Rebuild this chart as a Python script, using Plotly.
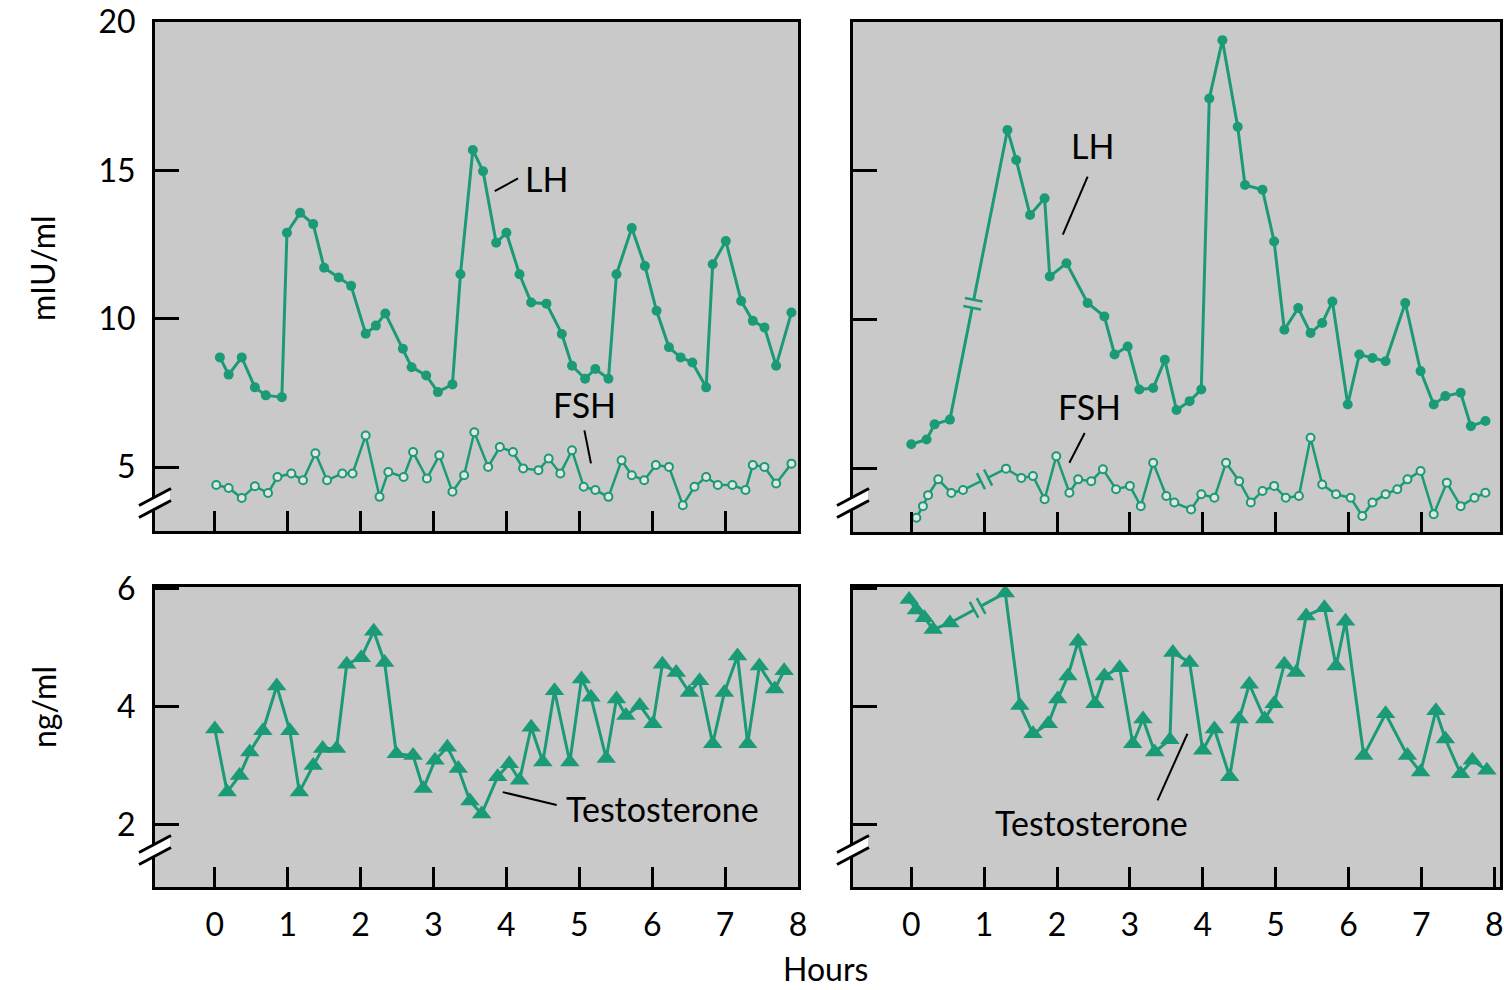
import plotly.graph_objects as go

# ---------------- data ----------------
# Left subject
lh1_t = [0.07,0.19,0.37,0.55,0.70,0.92,0.99,1.17,1.35,1.50,1.70,1.87,2.07,2.21,2.34,2.58,2.70,2.90,3.06,3.26,
         3.37,3.54,3.68,3.86,4.00,4.18,4.34,4.55,4.76,4.90,5.08,5.22,5.40,5.51,5.72,5.90,6.06,6.23,6.39,6.55,
         6.74,6.83,7.01,7.22,7.38,7.54,7.70,7.91]
lh1 = [8.70,8.12,8.70,7.69,7.42,7.36,12.90,13.57,13.19,11.72,11.39,11.11,9.50,9.77,10.18,8.99,8.37,8.09,7.53,7.79,
       11.50,15.69,14.97,12.56,12.90,11.50,10.55,10.51,9.49,8.42,7.98,8.31,7.98,11.50,13.06,11.78,10.27,9.04,8.70,8.53,
       7.69,11.84,12.62,10.60,9.93,9.71,8.42,10.21]
fsh1_t = [0.02,0.19,0.37,0.55,0.73,0.86,1.05,1.21,1.38,1.54,1.75,1.89,2.07,2.26,2.38,2.59,2.72,2.91,3.08,3.26,
          3.42,3.56,3.75,3.91,4.09,4.23,4.44,4.58,4.74,4.90,5.06,5.22,5.40,5.58,5.72,5.89,6.05,6.23,6.42,6.58,
          6.74,6.90,7.10,7.28,7.38,7.54,7.70,7.91]
fsh1 = [4.40,4.30,3.96,4.36,4.13,4.67,4.79,4.56,5.47,4.56,4.79,4.79,6.07,4.00,4.84,4.67,5.51,4.62,5.40,4.17,
        4.73,6.18,5.01,5.68,5.51,4.96,4.90,5.29,4.79,5.57,4.34,4.23,4.00,5.23,4.73,4.56,5.07,5.01,3.72,4.34,
        4.67,4.40,4.40,4.23,5.07,5.01,4.45,5.12]
t1_t = [0.00,0.17,0.34,0.48,0.66,0.85,1.03,1.16,1.35,1.48,1.67,1.81,2.01,2.18,2.33,2.49,2.72,2.86,3.02,3.19,
        3.34,3.50,3.66,3.88,4.04,4.18,4.34,4.50,4.66,4.87,5.03,5.16,5.37,5.51,5.64,5.83,6.01,6.14,6.33,6.51,
        6.65,6.83,6.99,7.17,7.31,7.47,7.68,7.81]
t1 = [3.62,2.55,2.83,3.23,3.59,4.35,3.59,2.55,3.00,3.29,3.29,4.72,4.83,5.28,4.75,3.20,3.17,2.61,3.09,3.31,
      2.95,2.40,2.18,2.81,3.03,2.75,3.65,3.06,4.27,3.06,4.47,4.16,3.12,4.13,3.85,4.02,3.71,4.72,4.58,4.24,
      4.44,3.37,4.24,4.86,3.37,4.69,4.30,4.61]

# Right subject
lh2_t = [0.00,0.21,0.32,0.53,1.32,1.44,1.63,1.83,1.90,2.13,2.42,2.65,2.79,2.97,3.13,3.32,3.48,3.64,3.82,3.98,
         4.09,4.27,4.48,4.58,4.82,4.98,5.12,5.31,5.48,5.64,5.78,5.99,6.15,6.33,6.51,6.78,6.99,7.17,7.33,7.54,
         7.68,7.88]
lh2 = [5.80,5.96,6.47,6.63,16.37,15.36,13.51,14.07,11.44,11.89,10.55,10.10,8.82,9.09,7.64,7.69,8.64,6.95,7.25,7.64,
       17.43,19.39,16.48,14.52,14.36,12.62,9.65,10.38,9.54,9.88,10.60,7.14,8.82,8.70,8.59,10.55,8.26,7.14,7.42,7.53,
       6.41,6.58]
fsh2_t = [0.07,0.16,0.23,0.37,0.55,0.71,1.30,1.51,1.67,1.83,1.99,2.17,2.29,2.47,2.63,2.81,3.00,3.15,3.32,3.50,
          3.61,3.84,3.98,4.16,4.32,4.50,4.66,4.82,4.98,5.14,5.32,5.48,5.64,5.83,6.03,6.19,6.33,6.51,6.67,6.81,
          6.99,7.17,7.35,7.54,7.73,7.88]
fsh2 = [3.33,3.72,4.09,4.62,4.16,4.26,4.98,4.67,4.73,3.95,5.40,4.17,4.62,4.56,4.96,4.29,4.40,3.72,5.18,4.06,
        3.84,3.61,4.12,4.00,5.18,4.56,3.84,4.23,4.40,4.00,4.06,6.02,4.45,4.12,4.00,3.39,3.84,4.12,4.29,4.62,
        4.90,3.45,4.51,3.72,4.00,4.17]
t2_t = [-0.03,0.07,0.18,0.30,0.53,1.29,1.49,1.67,1.88,2.01,2.15,2.29,2.52,2.65,2.86,3.04,3.18,3.34,3.55,3.59,
        3.82,4.00,4.16,4.37,4.50,4.64,4.85,4.98,5.12,5.28,5.42,5.67,5.83,5.96,6.21,6.51,6.81,6.99,7.20,7.33,
        7.54,7.70,7.90]
t2 = [5.82,5.64,5.51,5.31,5.42,5.93,4.02,3.54,3.71,4.13,4.52,5.11,4.05,4.52,4.66,3.37,3.79,3.23,3.44,4.92,
      4.75,3.26,3.62,2.81,3.79,4.38,3.79,4.05,4.72,4.58,5.54,5.68,4.69,5.45,3.17,3.88,3.17,2.89,3.93,3.45,
      2.86,3.09,2.92]
# index after which the right-hand series has a sampling break ("//")
breaks2 = {"lh": 3, "fsh": 5, "t": 4}

hour_ticks = [0, 1, 2, 3, 4, 5, 6, 7, 8]
top_yticks = [5, 10, 15, 20]
bot_yticks = [2, 4, 6]

# ---------------- styling / layout ----------------
W, H = 1504, 990
TEAL = "#1b9a77"
BG = "#c9c9c9"
FONT = "Lato"
TICK_FS = 32
LABEL_FS = 34
TITLE_FS = 32

# panel pixel boxes (left, right, top, bottom) and axis ranges
panels = {
    "tl": dict(ax=("x", "y"),   box=(155, 798, 22, 531),  xr=[-0.82, 8.0],  yr=[2.85, 20.0]),
    "tr": dict(ax=("x2", "y2"), box=(853, 1500, 22, 532), xr=[-0.80, 8.08], yr=[2.85, 20.0]),
    "bl": dict(ax=("x3", "y3"), box=(155, 798, 587, 887), xr=[-0.82, 8.0],  yr=[0.94, 6.03]),
    "br": dict(ax=("x4", "y4"), box=(853, 1500, 587, 887), xr=[-0.80, 8.08], yr=[0.94, 6.03]),
}

fig = go.Figure()

def add_series(key, t, v, kind):
    xa, ya = panels[key]["ax"]
    if kind == "lh":
        marker = dict(symbol="circle", size=10, color=TEAL)
        lw = 3
    elif kind == "fsh":
        marker = dict(symbol="circle", size=8, color="#e4e4e4", line=dict(color=TEAL, width=2))
        lw = 2.5
    else:
        marker = dict(symbol="triangle-up", size=17, color=TEAL)
        lw = 3
    fig.add_trace(go.Scatter(x=t, y=v, mode="lines+markers", xaxis=xa, yaxis=ya,
                             line=dict(color=TEAL, width=lw), marker=marker,
                             cliponaxis=False, showlegend=False, hoverinfo="skip"))

add_series("tl", fsh1_t, fsh1, "fsh")
add_series("tl", lh1_t, lh1, "lh")
add_series("bl", t1_t, t1, "t")
add_series("tr", fsh2_t, fsh2, "fsh")
add_series("tr", lh2_t, lh2, "lh")
add_series("br", t2_t, t2, "t")

layout = dict(width=W, height=H, autosize=False, margin=dict(l=0, r=0, t=0, b=0, autoexpand=False),
              paper_bgcolor="white", plot_bgcolor=BG,
              font=dict(family=FONT, size=TICK_FS, color="black"), showlegend=False)

for key, p in panels.items():
    l, r, t, b = p["box"]
    xa, ya = p["ax"]
    xname = "xaxis" + xa[1:]
    yname = "yaxis" + ya[1:]
    bottom = key in ("bl", "br")
    left = key in ("tl", "bl")
    layout[xname] = dict(domain=[l / W, r / W], range=p["xr"], anchor=ya, automargin=False,
                         showline=True, mirror=True, linecolor="black", linewidth=3,
                         ticks="inside", ticklen=20, tickwidth=3, tickcolor="black",
                         tickvals=hour_ticks if bottom else hour_ticks[:-1],
                         showticklabels=bottom, ticklabelstandoff=8, ticklabeloverflow="allow",
                         tickfont=dict(family=FONT, size=TICK_FS, color="black"),
                         showgrid=False, zeroline=False, fixedrange=True)
    layout[yname] = dict(domain=[1 - b / H, 1 - t / H], range=p["yr"], anchor=xa, automargin=False,
                         showline=True, mirror=True, linecolor="black", linewidth=3,
                         ticks="inside", ticklen=24, tickwidth=3, tickcolor="black",
                         tickvals=bot_yticks if bottom else top_yticks,
                         showticklabels=left, ticklabelstandoff=10, ticklabeloverflow="allow",
                         tickfont=dict(family=FONT, size=TICK_FS, color="black"),
                         showgrid=False, zeroline=False, fixedrange=True)

fig.update_layout(**layout)

def scale(key):
    l, r, t, b = panels[key]["box"]
    xr, yr = panels[key]["xr"], panels[key]["yr"]
    return (r - l) / (xr[1] - xr[0]), (b - t) / (yr[1] - yr[0])

shapes = []
annotations = []

# sampling-break marks on the right-hand series
def series_break(key, t, v, i, frac=0.45):
    xa, ya = panels[key]["ax"]
    sx, sy = scale(key)
    X0, Y0, X1, Y1 = t[i] * sx, v[i] * sy, t[i + 1] * sx, v[i + 1] * sy
    L = ((X1 - X0) ** 2 + (Y1 - Y0) ** 2) ** 0.5
    dx, dy = (X1 - X0) / L, (Y1 - Y0) / L
    nx, ny = -dy, dx
    Px, Py = X0 + frac * (X1 - X0), Y0 + frac * (Y1 - Y0)
    shapes.append(dict(type="line", xref=xa, yref=ya,
                       x0=(Px - 4 * dx) / sx, y0=(Py - 4 * dy) / sy,
                       x1=(Px + 4 * dx) / sx, y1=(Py + 4 * dy) / sy,
                       line=dict(color=BG, width=7)))
    for s in (-4, 4):
        Cx, Cy = Px + s * dx, Py + s * dy
        shapes.append(dict(type="line", xref=xa, yref=ya,
                           x0=(Cx - 9 * nx) / sx, y0=(Cy - 9 * ny) / sy,
                           x1=(Cx + 9 * nx) / sx, y1=(Cy + 9 * ny) / sy,
                           line=dict(color=TEAL, width=2.5)))

series_break("tr", lh2_t, lh2, breaks2["lh"], 0.40)
series_break("tr", fsh2_t, fsh2, breaks2["fsh"], 0.50)
series_break("br", t2_t, t2, breaks2["t"], 0.50)

# y-axis break symbols "//"
def px2paper(x, y):
    return x / W, 1 - y / H

for key, cy in (("tl", 503), ("tr", 503), ("bl", 850), ("br", 850)):
    ax_x = panels[key]["box"][0]
    pts = [(ax_x - 15, cy + 8 - 6), (ax_x + 15, cy - 8 - 6), (ax_x + 15, cy - 8 + 6), (ax_x - 15, cy + 8 + 6)]
    pp = [px2paper(*q) for q in pts]
    path = "M {} {} L {} {} L {} {} L {} {} Z".format(*[c for q in pp for c in q])
    shapes.append(dict(type="path", xref="paper", yref="paper", path=path,
                       fillcolor="white", line=dict(width=0), layer="above"))
    for off in (-6, 6):
        a = px2paper(ax_x - 16, cy + 8.5 + off)
        bq = px2paper(ax_x + 16, cy - 8.5 + off)
        shapes.append(dict(type="line", xref="paper", yref="paper",
                           x0=a[0], y0=a[1], x1=bq[0], y1=bq[1],
                           line=dict(color="black", width=3), layer="above"))

# series labels with leader lines
labels = [
    ("tl", "LH", 4.55, 14.73, (3.84, 14.30, 4.16, 14.73)),
    ("tl", "FSH", 5.07, 7.11, (5.07, 6.24, 5.16, 5.13)),
    ("bl", "Testosterone", 6.14, 2.28, (3.95, 2.55, 4.69, 2.33)),
    ("tr", "LH", 2.49, 15.84, (2.42, 14.80, 2.08, 12.85)),
    ("tr", "FSH", 2.45, 7.08, (2.38, 6.18, 2.17, 5.18)),
    ("br", "Testosterone", 2.47, 2.04, (3.38, 2.41, 3.79, 3.54)),
]
for key, text, tx, ty, (lx0, ly0, lx1, ly1) in labels:
    xa, ya = panels[key]["ax"]
    annotations.append(dict(x=tx, y=ty, xref=xa, yref=ya, text=text, showarrow=False,
                            font=dict(family=FONT, size=LABEL_FS, color="black")))
    shapes.append(dict(type="line", xref=xa, yref=ya, x0=lx0, y0=ly0, x1=lx1, y1=ly1,
                       line=dict(color="black", width=2)))

# axis titles
for text, (px, py), ang in (("mIU/ml", (43, 268), -90), ("ng/ml", (43, 707), -90), ("Hours", (825, 968), 0)):
    x, y = px2paper(px, py)
    annotations.append(dict(x=x, y=y, xref="paper", yref="paper", text=text, showarrow=False,
                            textangle=ang, font=dict(family=FONT, size=TITLE_FS, color="black"),
                            xanchor="center", yanchor="middle"))

fig.update_layout(shapes=shapes, annotations=annotations)
fig.write_html("out.html")
